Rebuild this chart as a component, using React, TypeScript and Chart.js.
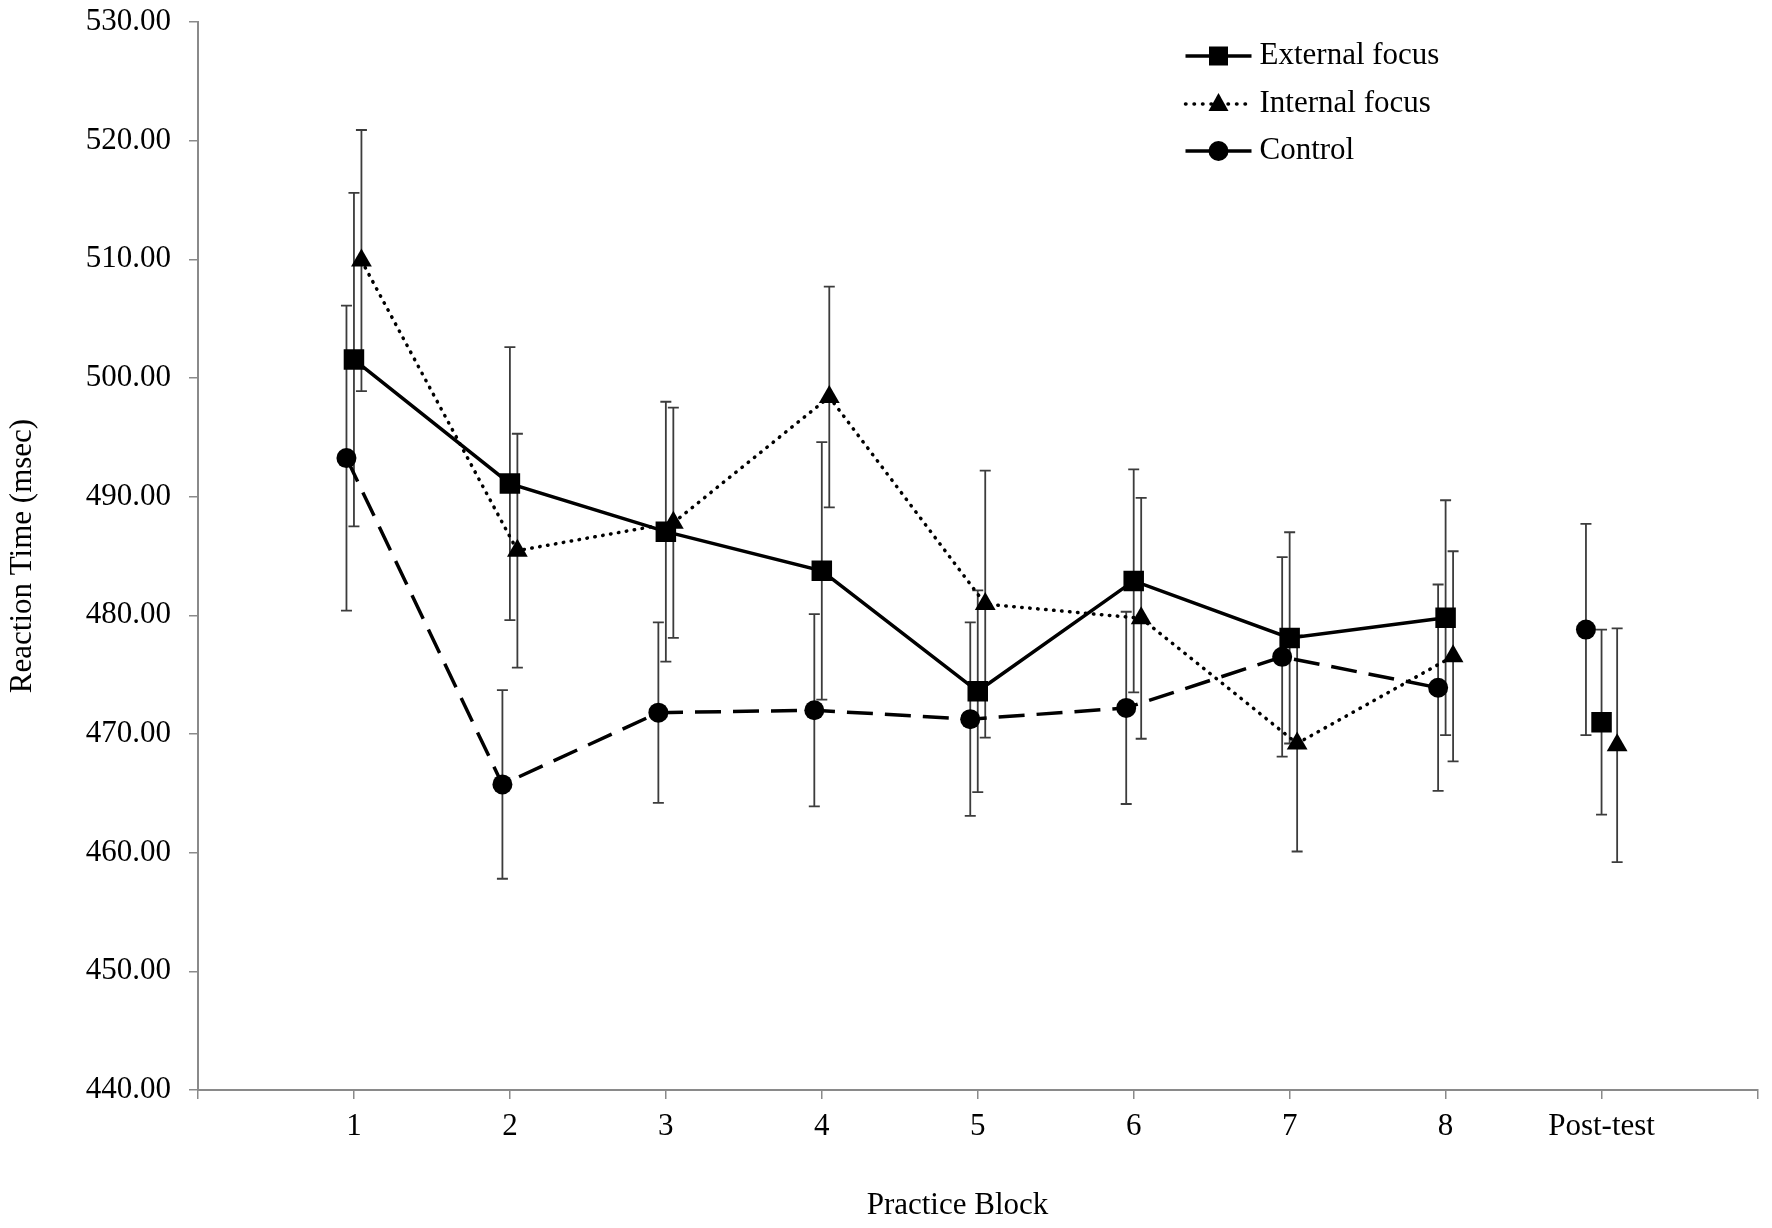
import { useEffect, useRef } from "react";
import { Chart, registerables, type ChartConfiguration, type Plugin } from "chart.js";

Chart.register(...registerables);

const blockLabels = ["1", "2", "3", "4", "5", "6", "7", "8", "Post-test"];

const externalMeans = [501.55, 491.1, 487.05, 483.75, 473.6, 482.9, 478.1, 479.8, 471.0];
const externalErrors = [14.05, 11.5, 10.95, 10.85, 8.5, 9.4, 8.9, 9.9, 7.8];

const internalMeans = [509.9, 485.45, 487.8, 498.4, 480.95, 479.75, 469.2, 476.55, 469.05];
const internalErrors = [11.0, 9.85, 9.7, 9.3, 11.25, 10.15, 9.1, 8.85, 9.85];

const controlMeans = [493.25, 465.75, 471.8, 472.0, 471.25, 472.2, 476.5, 473.9, 478.8];
const controlErrors = [12.85, 7.95, 7.6, 8.1, 8.15, 8.1, 8.4, 8.7, 8.9];

const seriesNames = ["External focus", "Internal focus", "Control"];
const xTitle = "Practice Block";
const yTitle = "Reaction Time (msec)";

// markers of the three groups sit a little apart around each block
const blockShift = 0.048;
const postShift = 0.1;

const FONT = "'Liberation Serif', 'Times New Roman', serif";

function toPoints(means: number[], side: number) {
  return means.map((y, i) => ({
    x: i + 1 + side * (i === means.length - 1 ? postShift : blockShift),
    y,
  }));
}

const errorSets = [externalErrors, internalErrors, controlErrors];

const errorBarPlugin: Plugin = {
  id: "errorBars",
  beforeDatasetsDraw(chart) {
    const { ctx, scales } = chart;
    ctx.save();
    ctx.strokeStyle = "#3c3c3c";
    ctx.lineWidth = 1.8;
    chart.data.datasets.forEach((ds, di) => {
      const errs = errorSets[di];
      (ds.data as { x: number; y: number }[]).forEach((pt, i) => {
        const x = scales.x.getPixelForValue(pt.x);
        const top = scales.y.getPixelForValue(pt.y + errs[i]);
        const bot = scales.y.getPixelForValue(pt.y - errs[i]);
        ctx.beginPath();
        ctx.moveTo(x, top);
        ctx.lineTo(x, bot);
        ctx.moveTo(x - 5.5, top);
        ctx.lineTo(x + 5.5, top);
        ctx.moveTo(x - 5.5, bot);
        ctx.lineTo(x + 5.5, bot);
        ctx.stroke();
      });
    });
    ctx.restore();
  },
};

// legend and x title drawn by hand: the legend shows line + marker together,
// and the x title sits a bit left of the plot centre in the original
const annotationPlugin: Plugin = {
  id: "annotations",
  afterDraw(chart) {
    const { ctx, chartArea } = chart;
    const x0 = chartArea.right - 572;
    const rowY = [chartArea.top + 34, chartArea.top + 82, chartArea.top + 129];
    const dashes = [[], [0.5, 8], []];
    ctx.save();
    seriesNames.forEach((name, i) => {
      const y = rowY[i];
      ctx.strokeStyle = "#000";
      ctx.lineWidth = 3.5;
      ctx.lineCap = i === 1 ? "round" : "butt";
      ctx.setLineDash(dashes[i]);
      ctx.beginPath();
      ctx.moveTo(x0, y);
      ctx.lineTo(x0 + 66, y);
      ctx.stroke();
      ctx.setLineDash([]);
      ctx.fillStyle = "#000";
      const cx = x0 + 33;
      ctx.beginPath();
      if (i === 0) {
        ctx.rect(cx - 9.5, y - 9.5, 19, 19);
      } else if (i === 1) {
        ctx.moveTo(cx, y - 11);
        ctx.lineTo(cx + 10, y + 7);
        ctx.lineTo(cx - 10, y + 7);
        ctx.closePath();
      } else {
        ctx.arc(cx, y, 10, 0, Math.PI * 2);
      }
      ctx.fill();
      ctx.font = `31px ${FONT}`;
      ctx.textBaseline = "middle";
      ctx.textAlign = "left";
      ctx.fillText(name, x0 + 74, y);
    });

    ctx.font = `31px ${FONT}`;
    ctx.textAlign = "center";
    ctx.textBaseline = "middle";
    ctx.fillStyle = "#000";
    const midX = chartArea.left + (chartArea.right - chartArea.left) * 0.487;
    ctx.fillText(xTitle, midX, chart.height - 22);
    ctx.restore();
  },
};

export default function App() {
  const canvasRef = useRef<HTMLCanvasElement>(null);
  const chartRef = useRef<Chart | null>(null);

  useEffect(() => {
    const canvas = canvasRef.current;
    if (!canvas) return;

    const hideLastSegment = {
      borderColor: (c: any) => (c.p1DataIndex === blockLabels.length - 1 ? "rgba(0,0,0,0)" : undefined),
    };

    const config: ChartConfiguration = {
      type: "line",
      data: {
        datasets: [
          {
            label: seriesNames[0],
            data: toPoints(externalMeans, 0),
            borderColor: "#000",
            backgroundColor: "#000",
            borderWidth: 3.5,
            pointStyle: "rect",
            pointRadius: 14.5,
            pointBorderWidth: 0,
            pointBackgroundColor: "#000",
            segment: hideLastSegment,
          },
          {
            label: seriesNames[1],
            data: toPoints(internalMeans, 1),
            borderColor: "#000",
            backgroundColor: "#000",
            borderWidth: 3.5,
            borderDash: [0.5, 7.5],
            borderCapStyle: "round",
            pointStyle: "triangle",
            pointRadius: 12,
            pointBorderWidth: 0,
            pointBackgroundColor: "#000",
            segment: hideLastSegment,
          },
          {
            label: seriesNames[2],
            data: toPoints(controlMeans, -1),
            borderColor: "#000",
            backgroundColor: "#000",
            borderWidth: 3.5,
            borderDash: [26, 12],
            pointStyle: "circle",
            pointRadius: 10,
            pointBorderWidth: 0,
            pointBackgroundColor: "#000",
            segment: hideLastSegment,
          },
        ],
      },
      options: {
        responsive: true,
        maintainAspectRatio: false,
        animation: false,
        layout: { padding: { top: 22, right: 12, left: 0, bottom: 0 } },
        plugins: {
          legend: { display: false },
          tooltip: { enabled: false },
        },
        scales: {
          x: {
            type: "linear",
            min: 0,
            max: 10,
            ticks: {
              stepSize: 1,
              autoSkip: false,
              maxRotation: 0,
              padding: 9,
              color: "#000",
              font: { family: FONT, size: 31 },
              callback: (v) => blockLabels[Number(v) - 1] ?? "",
            },
            grid: { drawOnChartArea: false, tickLength: 9, color: "#8a8a8a", lineWidth: 1.5 },
            border: { color: "#8a8a8a", width: 2 },
            afterFit: (s) => {
              s.height = 138;
              s.paddingLeft = 0;
              s.paddingRight = 0;
            },
          },
          y: {
            min: 440,
            max: 530,
            ticks: {
              stepSize: 10,
              padding: 18,
              color: "#000",
              font: { family: FONT, size: 31 },
              callback: (v) => Number(v).toFixed(2),
            },
            grid: { drawOnChartArea: false, tickLength: 9, color: "#8a8a8a", lineWidth: 1.5 },
            border: { color: "#8a8a8a", width: 2 },
            title: {
              display: true,
              text: yTitle,
              color: "#000",
              font: { family: FONT, size: 31 },
              padding: { top: 4, bottom: 0 },
            },
            afterFit: (s) => {
              s.width = 198;
              s.paddingTop = 0;
              s.paddingBottom = 0;
            },
          },
        },
      },
      plugins: [errorBarPlugin, annotationPlugin],
    };

    Chart.getChart(canvas)?.destroy();
    chartRef.current = new Chart(canvas, config);

    return () => {
      chartRef.current?.destroy();
      chartRef.current = null;
    };
  }, []);

  return (
    <div style={{ position: "fixed", left: 0, top: 0, width: 1772, height: 1228, background: "#fff" }}>
      <canvas ref={canvasRef} />
    </div>
  );
}
